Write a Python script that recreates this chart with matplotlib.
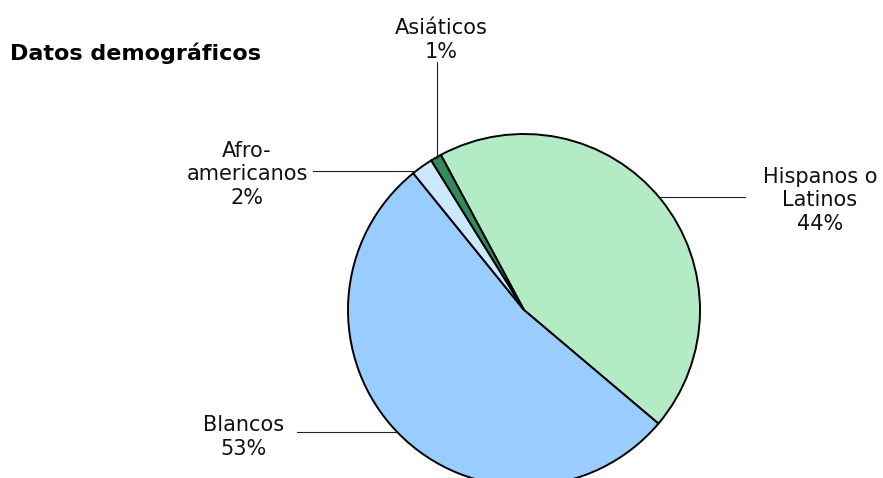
import matplotlib
matplotlib.use("Agg")
import matplotlib.pyplot as plt

# chart data
groups = ['Hispanos o\nLatinos', 'Blancos', 'Afro-\namericanos', 'Asiáticos']
shares = [44, 53, 2, 1]
colors = ['#b3ebc4', '#99ccff', '#cce8ff', '#338a5c']
title = 'Datos demográficos'

W, H = 883, 478
cx, cy, r = 524, 310, 176   # pie centre / radius in pixels (y down)


def py(y):
    # pixel row (from top) -> data y
    return H - y


fig = plt.figure(figsize=(W / 100, H / 100), dpi=100)
ax = fig.add_axes([0, 0, 1, 1])

wedges, _ = ax.pie(shares, colors=colors, startangle=118.2, counterclock=False,
                   center=(cx, py(cy)), radius=r,
                   wedgeprops=dict(edgecolor='black', linewidth=1.4))
ax.set_xlim(0, W)
ax.set_ylim(0, H)
ax.set_aspect('equal')
ax.axis('off')

fs = 15
lab = dict(fontsize=fs, ha='center', va='baseline', multialignment='center',
           linespacing=1.22, color='#111111')

# label text: (x centre, last-line baseline), leader line: (x0, y0, x1, y1)
labels = [
    (820, 230, (659, 197, 745, 197)),
    (244, 455, (297, 432, 397, 432)),
    (247, 204, (313, 171, 415, 171)),
    (441, 58, (436.5, 62, 436.5, 158)),
]
for g, s, (tx, ty, ln) in zip(groups, shares, labels):
    ax.text(tx, py(ty), f'{g}\n{s}%', **lab)
    x0, y0, x1, y1 = ln
    ax.plot([x0, x1], [py(y0), py(y1)], color='#222222', lw=0.8)

ax.text(10, py(60), title, fontsize=16, fontweight='heavy', ha='left', va='baseline')

fig.savefig('out.png', dpi=100)
